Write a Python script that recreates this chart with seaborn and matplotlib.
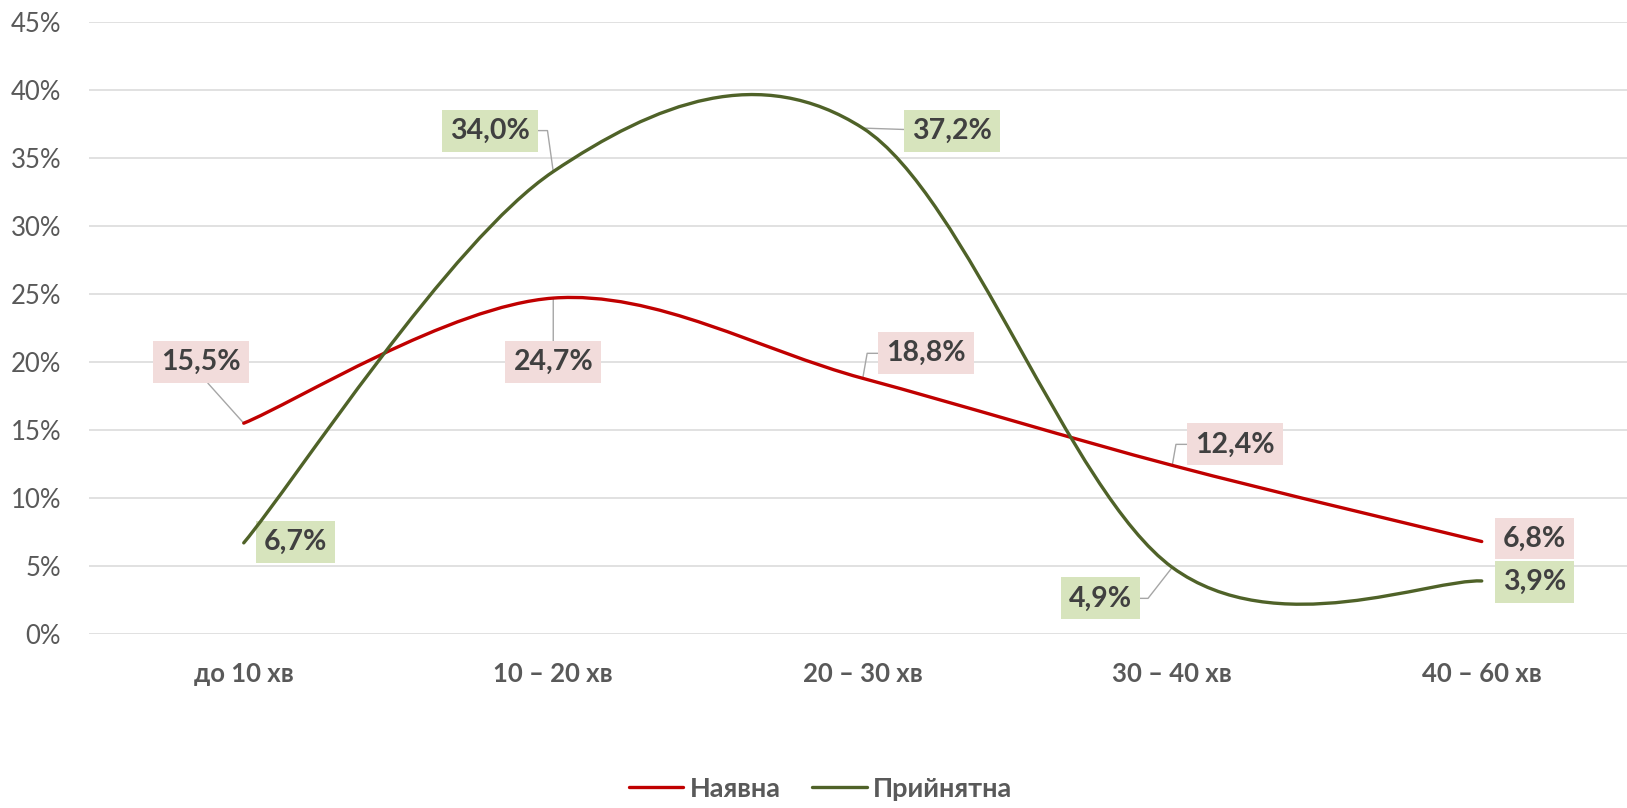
import numpy as np
import pandas as pd
import matplotlib
matplotlib.use("Agg")
import matplotlib.pyplot as plt
from matplotlib.path import Path
from matplotlib.patches import PathPatch
import seaborn as sns

# data
categories = ["до 10 хв", "10 – 20 хв", "20 – 30 хв", "30 – 40 хв", "40 – 60 хв"]
series_names = ["Наявна", "Прийнятна"]
naiavna = [15.5, 24.7, 18.8, 12.4, 6.8]
pryiniatna = [6.7, 34.0, 37.2, 4.9, 3.9]
y_ticks = [0, 5, 10, 15, 20, 25, 30, 35, 40, 45]

# label layout: offset of each label box centre from its point, in pixels
red_offsets = [(-43, 61), (0, -64), (63, 25), (63, 21), (53, 3)]
green_offsets = [(52, 1), (-63, 41), (89, -3), (-72, -31), (53, -1)]
red_leaders = [("arc3", (0.5, 0.0)), ("arc3", (0.5, 0.5)),
               ("angle,angleA=0,angleB=80", (0.5, 0.5)),
               ("angle,angleA=0,angleB=80", (0.5, 0.5)), None]
green_leaders = [None, ("angle,angleA=0,angleB=98", (0.5, 0.5)),
                 ("arc3", (0.5, 0.5)),
                 ("angle,angleA=0,angleB=52", (0.5, 0.5)), None]

RED = "#C00000"
GREEN = "#4F6228"
RED_FILL = "#F2DCDB"
GREEN_FILL = "#D7E4BD"
TICK_COLOR = "#595959"
LABEL_COLOR = "#404040"

sns.set_theme(style="white")
plt.rcParams["font.family"] = ["Lato", "Roboto", "DejaVu Sans"]


def smooth_path(xs, ys):
    # Excel-like smoothed line: cubic Bezier segments through the data points
    pts = np.column_stack([xs, ys]).astype(float)
    n = len(pts)
    verts = [pts[0]]
    codes = [Path.MOVETO]
    for i in range(n - 1):
        p_prev = pts[max(i - 1, 0)]
        p_next2 = pts[min(i + 2, n - 1)]
        c1 = pts[i] + (pts[i + 1] - p_prev) / 6
        c2 = pts[i + 1] - (p_next2 - pts[i]) / 6
        verts += [c1, c2, pts[i + 1]]
        codes += [Path.CURVE4] * 3
    return Path(verts, codes)


df = pd.DataFrame({
    "pos": list(range(len(categories))) * 2,
    "value": naiavna + pryiniatna,
    "series": [series_names[0]] * len(naiavna) + [series_names[1]] * len(pryiniatna),
})

fig = plt.figure(figsize=(16.27, 8.08), dpi=100)
ax = fig.add_axes([89 / 1627, 174 / 808, 1547.5 / 1627, 612 / 808])

palette = {series_names[0]: RED, series_names[1]: GREEN}
sns.lineplot(data=df, x="pos", y="value", hue="series", palette=palette,
             linewidth=2.4, ax=ax, legend=True)
# straight segments are replaced by the smoothed curves below
for line in ax.lines:
    line.set_visible(False)

for vals, color in [(naiavna, RED), (pryiniatna, GREEN)]:
    path = smooth_path(range(len(vals)), vals)
    ax.add_patch(PathPatch(path, fill=False, edgecolor=color, lw=2.4,
                           capstyle="round", zorder=4))

# data labels
for vals, offsets, leaders, fill in [(naiavna, red_offsets, red_leaders, RED_FILL),
                                     (pryiniatna, green_offsets, green_leaders, GREEN_FILL)]:
    for i, (v, (dx, dy), leader) in enumerate(zip(vals, offsets, leaders)):
        arrow = None
        if leader is not None:
            arrow = dict(arrowstyle="-", color="#A6A6A6", lw=1.0, shrinkA=0, shrinkB=0,
                         connectionstyle=leader[0], relpos=leader[1])
        ax.annotate(f"{v:.1f}%".replace(".", ","), xy=(i, v), xytext=(dx, dy),
                    textcoords="offset pixels", ha="center", va="center",
                    fontsize=20.5, fontweight="bold", color=LABEL_COLOR,
                    bbox=dict(boxstyle="square,pad=0.28", fc=fill, ec="none"),
                    arrowprops=arrow, zorder=3)

ax.set_xlim(-0.5, len(categories) - 0.5)
ax.set_ylim(0, 45)
ax.set_xticks(range(len(categories)))
ax.set_xticklabels(categories, fontsize=18.5, fontweight="bold", color=TICK_COLOR)
ax.set_yticks(y_ticks)
ax.set_yticklabels([f"{t}%" for t in y_ticks], fontsize=18.5, color=TICK_COLOR)
ax.tick_params(axis="x", length=0, pad=20)
ax.tick_params(axis="y", length=0, pad=20)
ax.set_xlabel("")
ax.set_ylabel("")
ax.yaxis.grid(True, color="#D9D9D9", lw=1.1)
ax.xaxis.grid(False)
ax.set_axisbelow(True)
sns.despine(ax=ax, left=True, bottom=True)

sns.move_legend(ax, "center", bbox_to_anchor=(0.473, -0.253), ncol=2, frameon=False,
                title=None, handlelength=2.0, handletextpad=0.25, columnspacing=1.15,
                prop={"size": 19.5, "weight": "bold"})
for txt in ax.get_legend().get_texts():
    txt.set_color(TICK_COLOR)

fig.savefig("out.png", dpi=100)
